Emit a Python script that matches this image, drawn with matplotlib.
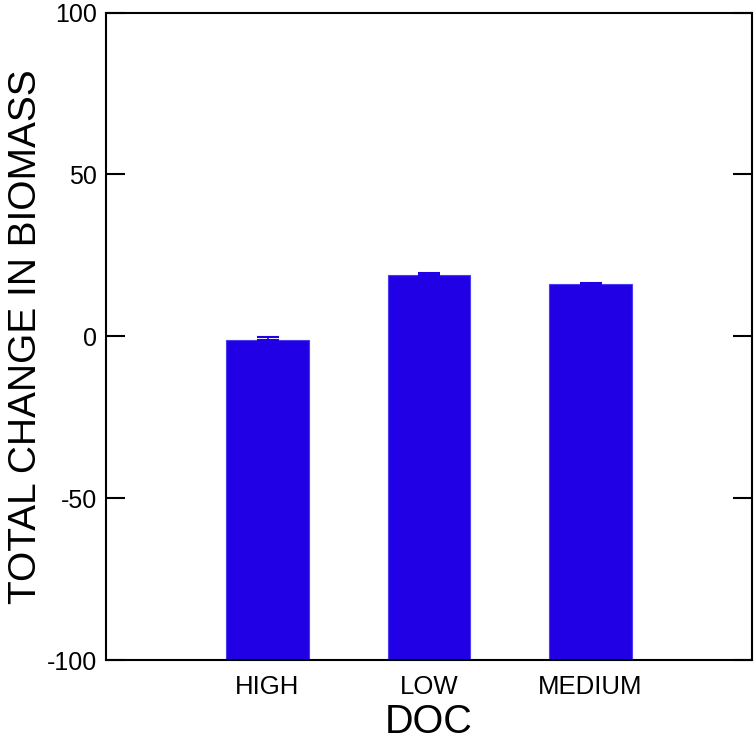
import matplotlib
matplotlib.use("Agg")
import matplotlib.pyplot as plt

categories = ["HIGH", "LOW", "MEDIUM"]
means = [-1.3, 18.9, 16.1]
errors = [1.2, 0.5, 0.5]
yticks = [-100, -50, 0, 50, 100]
baseline = -100

plt.rcParams['font.family'] = ['Liberation Sans', 'DejaVu Sans']

fig = plt.figure(figsize=(7.55, 7.44), dpi=100)
ax = fig.add_axes([106/755, 1-660/744, 646/755, 647.5/744])

x = [1, 2, 3]
heights = [m - baseline for m in means]
bar_color = '#2200e6'
ax.bar(x, heights, bottom=baseline, width=0.51, color=bar_color, edgecolor='#4a3cf2',
       linewidth=0.8, zorder=2)
ax.errorbar(x, means, yerr=[[0]*len(errors), errors], fmt='none', ecolor=bar_color,
            elinewidth=1.2, capsize=8, capthick=1.5, zorder=3)

ax.set_xlim(0, 4)
ax.set_ylim(-100, 100)
ax.set_xticks(x)
ax.set_xticklabels(categories, fontsize=18.5)
ax.set_yticks(yticks)
ax.set_yticklabels([str(v) for v in yticks], fontsize=18)
ax.tick_params(axis='x', length=0, pad=11)
ax.tick_params(axis='y', direction='in', length=13.7, width=1.5, left=True, right=True, pad=6.5)
for s in ax.spines.values():
    s.set_linewidth(1.5)

ax.set_xlabel("DOC", fontsize=28.5, labelpad=3)
ax.set_ylabel("TOTAL CHANGE IN BIOMASS", fontsize=28, labelpad=2)

fig.savefig("out.png", dpi=100)
